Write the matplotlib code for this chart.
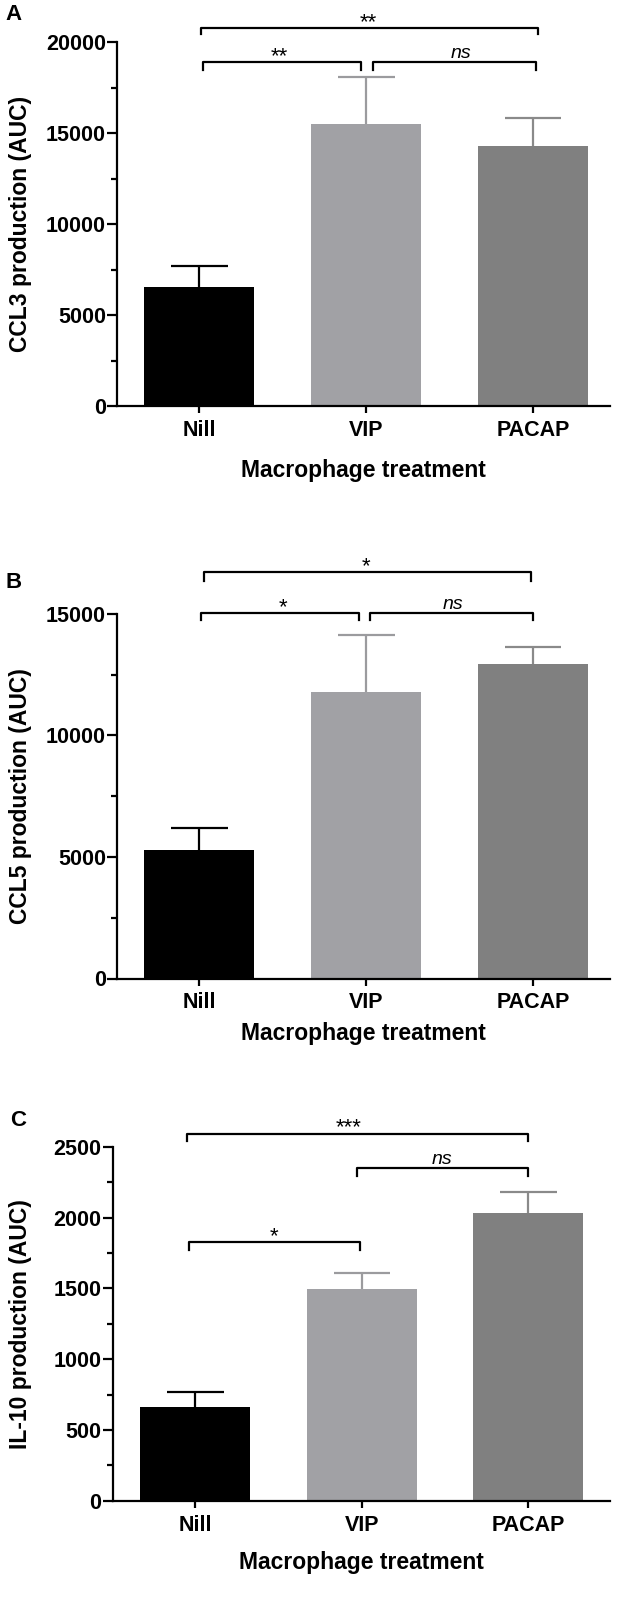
import numpy as np
import matplotlib
matplotlib.use('Agg')
import matplotlib.pyplot as plt
from matplotlib.ticker import MultipleLocator

plt.rcParams['font.family'] = ['Liberation Sans', 'DejaVu Sans']
fs_label, fs_tick, fs_star, fs_ns, fs_letter = 16.5, 15.5, 16, 14, 16

# data
groups = ['Nill', 'VIP', 'PACAP']
bar_colors = ['#000000', '#a1a1a5', '#808080']
err_colors = ['#000000', '#9b9b9e', '#8a8a8a']

ccl3_mean = [6550, 15500, 14300]
ccl3_sem = [1150, 2550, 1500]
ccl5_mean = [5300, 11800, 12950]
ccl5_sem = [900, 2350, 700]
il10_mean = [665, 1495, 2035]
il10_sem = [105, 115, 150]

# significance (group i, group j, label)
ccl3_sig = [(0, 2, '**'), (0, 1, '**'), (1, 2, 'ns')]
ccl5_sig = [(0, 2, '*'), (0, 1, '*'), (1, 2, 'ns')]
il10_sig = [(0, 2, '***'), (1, 2, 'ns'), (0, 1, '*')]

# 브래킷 위치 (x1, x2, y, 다리길이, 글자 x)
ccl3_br = [(0.01, 2.03, 20770, 330, 1.01), (0.02, 0.97, 18900, 440, 0.48), (1.04, 2.02, 18900, 440, 1.57)]
ccl5_br = [(0.03, 1.99, 16730, 360, 1.0), (0.01, 0.96, 15040, 280, 0.5), (1.02, 2.0, 15040, 280, 1.52)]
il10_br = [(-0.05, 2.0, 2595, 55, 0.92), (0.97, 2.0, 2352, 59, 1.48), (-0.04, 0.99, 1825, 55, 0.47)]

W, H = 620, 1598
fig = plt.figure(figsize=(W / 100, H / 100), dpi=100)


def px_rect(l, t, r, b):
    return [l / W, 1 - b / H, (r - l) / W, (b - t) / H]


def panel(rect, xlim, means, sems, ymax, major, minor, ylabel, sig, br, letter, letter_xy, ylab_x, xlab_y):
    ax = fig.add_axes(px_rect(*rect))
    x = np.arange(len(groups))
    tops = np.array(means) + np.array(sems)
    ax.bar(x, means, width=0.66, color=bar_colors, zorder=2)
    # 위쪽 오차막대만
    ax.vlines(x, means, tops, colors=err_colors, lw=1.6, zorder=1)
    ax.hlines(tops, x - 0.17, x + 0.17, colors=err_colors, lw=1.6, zorder=1)
    ax.set_xlim(*xlim)
    ax.set_ylim(0, ymax)
    ax.yaxis.set_major_locator(MultipleLocator(major))
    ax.yaxis.set_minor_locator(MultipleLocator(minor))
    ax.set_xticks(x)
    ax.set_xticklabels(groups, fontweight='bold', fontsize=fs_tick)
    for lab in ax.get_yticklabels():
        lab.set_fontweight('bold')
        lab.set_fontsize(fs_tick)
    ax.spines['top'].set_color('none')
    ax.spines['right'].set_color('none')
    ax.spines['left'].set_linewidth(1.6)
    ax.spines['bottom'].set_linewidth(1.6)
    ax.tick_params(axis='y', which='major', length=7, width=1.6, pad=1)
    ax.tick_params(axis='y', which='minor', length=4, width=1.6)
    ax.tick_params(axis='x', which='major', length=5, width=1.6, pad=5)
    ax.set_ylabel(ylabel, fontweight='bold', fontsize=fs_label)
    ax.yaxis.set_label_coords(ylab_x, 0.5)
    ax.set_xlabel('Macrophage treatment', fontweight='bold', fontsize=fs_label)
    ax.xaxis.set_label_coords(0.5, xlab_y)

    for (i, j, txt), (x1, x2, y, d, tx) in zip(sig, br):
        ax.plot([x1, x1, x2, x2], [y - d, y, y, y - d], color='k', lw=1.6, clip_on=False)
        if txt == 'ns':
            ax.text(tx, y, txt, ha='center', va='bottom', fontsize=fs_ns, style='italic')
        else:
            ax.text(tx, y, txt, ha='center', va='baseline', fontsize=fs_star)

    fig.text(letter_xy[0] / W, 1 - letter_xy[1] / H, letter, fontsize=fs_letter, fontweight='bold',
             ha='center', va='center')
    return ax


panel((117, 42, 610, 406), (-0.493, 2.461), ccl3_mean, ccl3_sem, 20000, 5000, 2500,
      'CCL3 production (AUC)', ccl3_sig, ccl3_br, 'A', (14, 15), -0.172, -0.146)
panel((117, 614, 610, 978.5), (-0.493, 2.461), ccl5_mean, ccl5_sem, 15000, 5000, 2500,
      'CCL5 production (AUC)', ccl5_sig, ccl5_br, 'B', (14, 582), -0.172, -0.12)
panel((112.5, 1147, 610, 1500.7), (-0.497, 2.49), il10_mean, il10_sem, 2500, 500, 250,
      'IL-10 production (AUC)', il10_sig, il10_br, 'C', (18, 1120), -0.162, -0.142)

fig.savefig('out.png', dpi=100)
